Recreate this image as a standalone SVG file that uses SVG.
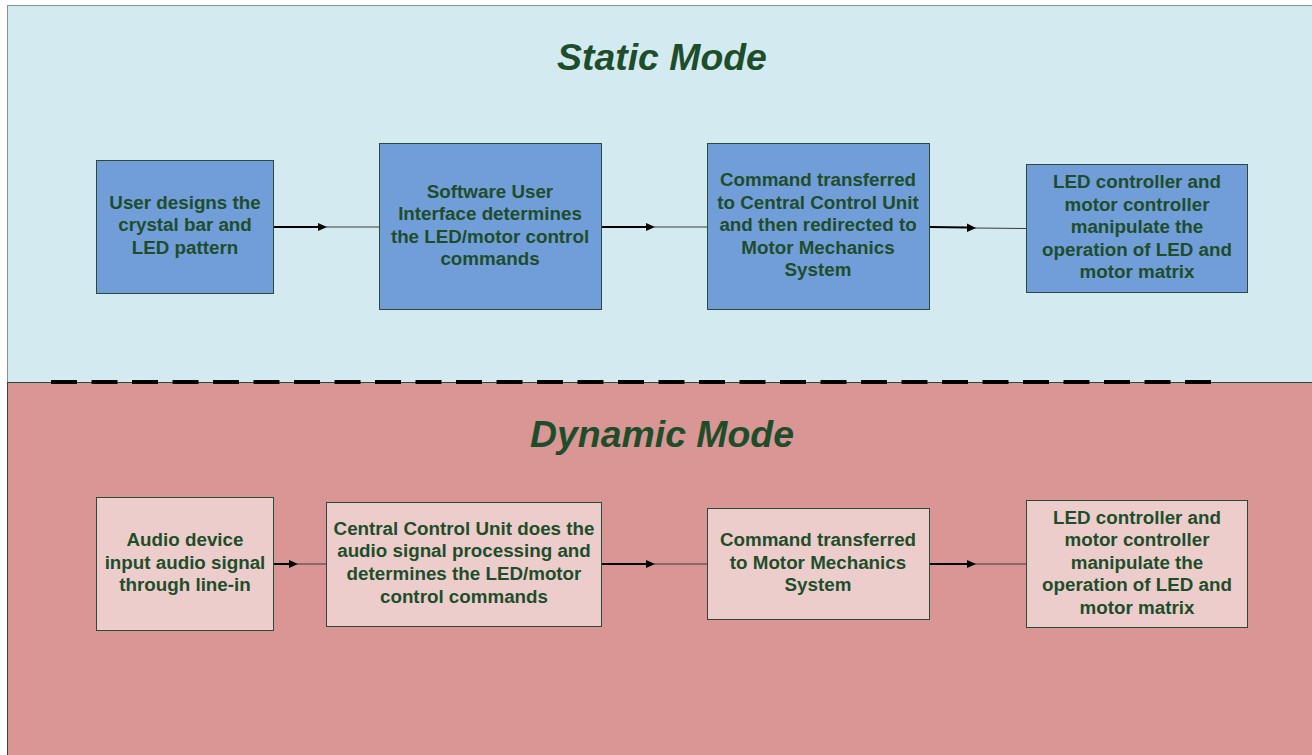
<svg xmlns="http://www.w3.org/2000/svg" width="1312" height="755" viewBox="0 0 1312 755">
<style>
.title{font-family:"Liberation Sans",Arial,sans-serif;font-weight:bold;font-style:italic;font-size:37.4px;fill:#1E4D2B;text-anchor:middle}
.lbl{font-family:"Liberation Sans",Arial,sans-serif;font-weight:bold;font-size:18.8px;fill:#1E4D2B;text-anchor:middle}
.sbox{fill:#719ED9;stroke:#2C4A38;stroke-width:1}
.dbox{fill:#EDCDCB;stroke:#2C4A38;stroke-width:1}
.thick{stroke:#000;stroke-width:2;fill:none}
.thin{stroke:#3a3a3a;stroke-width:1;fill:none}
.head{fill:#000}
</style>
<rect x="0" y="0" width="1312" height="755" fill="#ffffff"/>
<g id="static-region">
<rect x="7.5" y="5.5" width="1310" height="377" fill="#D2EAF0" stroke="#7C9889" stroke-width="1"/>
<text class="title" x="662" y="70">Static Mode</text>
</g>
<g id="dynamic-region">
<rect x="7.5" y="382.5" width="1310" height="380" fill="#D99694" stroke="#2C4A38" stroke-width="1"/>
<text class="title" x="662" y="447">Dynamic Mode</text>
</g>
<line x1="51" y1="382" x2="1211" y2="382" stroke="#000" stroke-width="4" stroke-dasharray="26 14.5"/>
<g id="s1"><rect class="sbox" x="96.5" y="160.5" width="177" height="133"/>
<text class="lbl" x="185" y="209">User designs the</text><text class="lbl" x="185" y="231">crystal bar and</text><text class="lbl" x="185" y="254">LED pattern</text></g>
<g id="s2"><rect class="sbox" x="379.5" y="143.5" width="222" height="166"/>
<text class="lbl" x="490" y="198">Software User</text><text class="lbl" x="490" y="220">Interface determines</text><text class="lbl" x="490" y="243">the LED/motor control</text><text class="lbl" x="490" y="265">commands</text></g>
<g id="s3"><rect class="sbox" x="707.5" y="143.5" width="222" height="166"/>
<text class="lbl" x="818" y="186">Command transferred</text><text class="lbl" x="818" y="209">to Central Control Unit</text><text class="lbl" x="818" y="231">and then redirected to</text><text class="lbl" x="818" y="254">Motor Mechanics</text><text class="lbl" x="818" y="276">System</text></g>
<g id="s4"><rect class="sbox" x="1026.5" y="164.5" width="221" height="128"/>
<text class="lbl" x="1137" y="188">LED controller and</text><text class="lbl" x="1137" y="211">motor controller</text><text class="lbl" x="1137" y="233">manipulate the</text><text class="lbl" x="1137" y="256">operation of LED and</text><text class="lbl" x="1137" y="278">motor matrix</text></g>
<g id="d1"><rect class="dbox" x="96.5" y="497.5" width="177" height="133"/>
<text class="lbl" x="185" y="546">Audio device</text><text class="lbl" x="185" y="569">input audio signal</text><text class="lbl" x="185" y="591">through line-in</text></g>
<g id="d2"><rect class="dbox" x="326.5" y="502.5" width="275" height="124"/>
<text class="lbl" x="464" y="535">Central Control Unit does the</text><text class="lbl" x="464" y="557">audio signal processing and</text><text class="lbl" x="464" y="580">determines the LED/motor</text><text class="lbl" x="464" y="603">control commands</text></g>
<g id="d3"><rect class="dbox" x="707.5" y="508.5" width="222" height="111"/>
<text class="lbl" x="818" y="546">Command transferred</text><text class="lbl" x="818" y="569">to Motor Mechanics</text><text class="lbl" x="818" y="591">System</text></g>
<g id="d4"><rect class="dbox" x="1026.5" y="500.5" width="221" height="127"/>
<text class="lbl" x="1137" y="524">LED controller and</text><text class="lbl" x="1137" y="546">motor controller</text><text class="lbl" x="1137" y="569">manipulate the</text><text class="lbl" x="1137" y="591">operation of LED and</text><text class="lbl" x="1137" y="614">motor matrix</text></g>
<g id="connectors">
<line class="thick" x1="274" y1="227" x2="320" y2="227"/><line class="thin" x1="326" y1="227" x2="379" y2="227"/><path class="head" d="M318,223 L327,227 L318,231 Z"/>
<line class="thick" x1="602" y1="227" x2="648" y2="227"/><line class="thin" x1="654" y1="227" x2="707" y2="227"/><path class="head" d="M646,223 L655,227 L646,231 Z"/>
<line class="thick" x1="930" y1="227" x2="968" y2="227.5"/><line class="thin" x1="974" y1="228" x2="1026" y2="228.5"/><path class="head" d="M967,223.5 L976,228 L967,232 Z"/>
<line class="thick" x1="274" y1="564" x2="291" y2="564"/><line class="thin" x1="297" y1="564" x2="326" y2="564"/><path class="head" d="M289,560 L298,564 L289,568 Z"/>
<line class="thick" x1="602" y1="564" x2="648" y2="564"/><line class="thin" x1="654" y1="564" x2="707" y2="564"/><path class="head" d="M646,560 L655,564 L646,568 Z"/>
<line class="thick" x1="930" y1="564" x2="968" y2="564"/><line class="thin" x1="974" y1="564" x2="1026" y2="564"/><path class="head" d="M967,560 L976,564 L967,568 Z"/>
</g>
</svg>
